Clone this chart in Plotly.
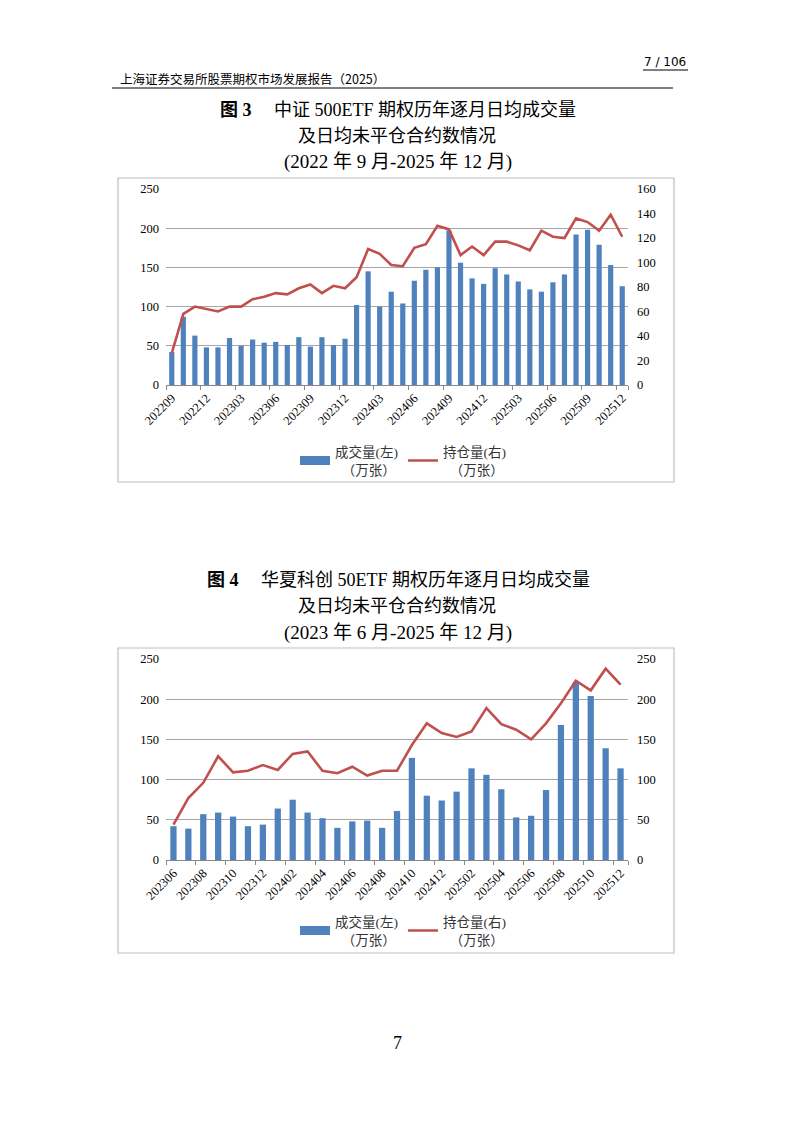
import plotly.graph_objects as go

# ---------------- data ----------------
months1 = [f"{y}{m:02d}" for y, m in
           [(2022, m) for m in range(9, 13)] + [(2023, m) for m in range(1, 13)] +
           [(2024, m) for m in range(1, 13)] + [(2025, m) for m in range(1, 13)]]
volume1 = [42, 87, 63, 48, 48, 60, 50, 58, 54, 55, 51, 61, 49, 61, 51, 59,
           102, 145, 100, 119, 104, 133, 147, 150, 197, 156, 136, 129, 149, 141,
           132, 122, 119, 131, 141, 192, 198, 179, 153, 126]
oi1 = [26, 58, 64, 62, 60, 64, 64, 70, 72, 75, 74, 79, 82, 75, 81, 79,
       88, 111, 107, 98, 97, 112, 115, 130, 127, 106, 113, 106, 117, 117,
       114, 110, 126, 121, 120, 136, 133, 126, 139, 121]

months2 = [f"{y}{m:02d}" for y, m in
           [(2023, m) for m in range(6, 13)] + [(2024, m) for m in range(1, 13)] +
           [(2025, m) for m in range(1, 13)]]
volume2 = [42, 39, 57, 59, 54, 42, 44, 64, 75, 59, 52, 40, 48, 49, 40, 61,
           127, 80, 74, 85, 114, 106, 88, 53, 55, 87, 168, 221, 204, 139, 114]
oi2 = [44, 77, 96, 129, 109, 111, 118, 112, 132, 135, 111, 108, 116, 105, 111, 111,
       143, 170, 158, 153, 160, 189, 169, 162, 150, 170, 195, 223, 211, 238, 218]

left_ticks = [0, 50, 100, 150, 200, 250]
right_ticks1 = [0, 20, 40, 60, 80, 100, 120, 140, 160]
right_ticks2 = [0, 50, 100, 150, 200, 250]

name_vol = "成交量(左)<br>  （万张）"
name_oi = "持仓量(右)<br>  （万张）"

BLUE = "#4F81BD"
RED = "#C0504D"
GRID = "#A6A6A6"
SERIF = "Liberation Serif, Noto Sans CJK SC, serif"
W, H = 794, 1123


def px(x):
    return x / W


def py(y):
    return 1 - y / H


fig = go.Figure()

def add_chart(cats, vol, oi, xa, ya, ya2, leg, bw):
    fig.add_trace(go.Bar(x=cats, y=vol, name=name_vol, marker_color=BLUE,
                         width=bw, xaxis=xa, yaxis=ya, showlegend=False))
    # legend key drawn as a wide swatch (Excel style)
    fig.add_trace(go.Scatter(x=[None], y=[None], name=name_vol, mode="lines",
                             line=dict(color=BLUE, width=9), xaxis=xa, yaxis=ya,
                             legend=leg, hoverinfo="skip"))
    fig.add_trace(go.Scatter(x=cats, y=oi, name=name_oi, mode="lines",
                             line=dict(color=RED, width=2.6), xaxis=xa, yaxis=ya2,
                             legend=leg))

add_chart(months1, volume1, oi1, "x", "y", "y2", "legend", 0.45)
add_chart(months2, volume2, oi2, "x3", "y3", "y4", "legend2", 0.42)

tickfont = dict(family=SERIF, size=12.5, color="#000")
xdom = [px(166), px(628)]

def xaxis_cfg(cats, step, anchor):
    return dict(domain=xdom, anchor=anchor, type="category", automargin=False,
                tickmode="array", tickvals=cats[::step], ticktext=cats[::step],
                tickson="boundaries", ticks="outside", ticklen=4, tickcolor="#888",
                showline=True, linecolor="#888", linewidth=1, showgrid=False,
                tickangle=-45, tickfont=tickfont, range=[-0.5, len(cats) - 0.5])

def yleft_cfg(dom, anchor):
    return dict(domain=dom, anchor=anchor, range=[0, 250], tickvals=left_ticks,
                automargin=False,
                showgrid=True, gridcolor=GRID, gridwidth=1, zeroline=False,
                showline=False, tickfont=tickfont, ticks="", ticklabelstandoff=6)

def yright_cfg(over, anchor, rng, tv):
    return dict(overlaying=over, anchor=anchor, side="right", range=rng, tickvals=tv,
                automargin=False,
                showgrid=False, zeroline=False, showline=False, tickfont=tickfont,
                ticks="", ticklabelstandoff=8)

legfont = dict(family=SERIF, size=13.5, color="#333")
fig.update_layout(
    template="none",
    width=W, height=H, autosize=False,
    margin=dict(l=0, r=0, t=0, b=0, pad=0, autoexpand=False),
    paper_bgcolor="white", plot_bgcolor="rgba(0,0,0,0)",
    showlegend=True,
    xaxis=xaxis_cfg(months1, 3, "y"),
    yaxis=yleft_cfg([py(385), py(189)], "x"),
    yaxis2=yright_cfg("y", "x", [0, 160], right_ticks1),
    xaxis3=xaxis_cfg(months2, 2, "y3"),
    yaxis3=yleft_cfg([py(860), py(659)], "x3"),
    yaxis4=yright_cfg("y3", "x3", [0, 250], right_ticks2),
    legend=dict(orientation="h", x=px(403), y=py(461), xanchor="center", yanchor="middle",
                font=legfont, bgcolor="rgba(0,0,0,0)", itemwidth=30, tracegroupgap=0),
    legend2=dict(orientation="h", x=px(403), y=py(931), xanchor="center", yanchor="middle",
                 font=legfont, bgcolor="rgba(0,0,0,0)", itemwidth=30, tracegroupgap=0),
)

shapes = [
    # chart borders
    dict(type="rect", xref="paper", yref="paper", x0=px(118), x1=px(674), y0=py(482), y1=py(178),
         line=dict(color="#BFBFBF", width=1.2), layer="below"),
    dict(type="rect", xref="paper", yref="paper", x0=px(118), x1=px(674), y0=py(953), y1=py(648),
         line=dict(color="#BFBFBF", width=1.2), layer="below"),
    # header rule
    dict(type="line", xref="paper", yref="paper", x0=px(112), x1=px(673), y0=py(88), y1=py(88),
         line=dict(color="#000", width=1)),
    dict(type="line", xref="paper", yref="paper", x0=px(643), x1=px(688), y0=py(70), y1=py(70),
         line=dict(color="#000", width=1)),
]
fig.update_layout(shapes=shapes)

CJK = "Liberation Serif, Noto Sans CJK SC, serif"
tfont = dict(family=CJK, size=18, color="#000")
annotations = [
    dict(text="7 / 106", x=px(688), y=py(62), xanchor="right", yanchor="middle",
         font=dict(family="DejaVu Sans, sans-serif", size=12, color="#000")),
    dict(text="上海证券交易所股票期权市场发展报告（2025）", x=px(118), y=py(78), xanchor="left",
         yanchor="middle", font=dict(family="Noto Sans CJK SC, sans-serif", size=12.5, color="#000")),
    dict(text="<b>图 3</b>　 中证 500ETF 期权历年逐月日均成交量", x=px(398), y=py(110),
         xanchor="center", yanchor="middle", font=tfont),
    dict(text="及日均未平仓合约数情况", x=px(397), y=py(136),
         xanchor="center", yanchor="middle", font=tfont),
    dict(text="(2022 年 9 月-2025 年 12 月)", x=px(398), y=py(162),
         xanchor="center", yanchor="middle", font=dict(family=CJK, size=19, color="#000")),
    dict(text="<b>图 4</b>　 华夏科创 50ETF 期权历年逐月日均成交量", x=px(398), y=py(580),
         xanchor="center", yanchor="middle", font=tfont),
    dict(text="及日均未平仓合约数情况", x=px(397), y=py(606),
         xanchor="center", yanchor="middle", font=tfont),
    dict(text="(2023 年 6 月-2025 年 12 月)", x=px(398), y=py(633),
         xanchor="center", yanchor="middle", font=dict(family=CJK, size=19, color="#000")),
    dict(text="7", x=px(397), y=py(1043), xanchor="center", yanchor="middle",
         font=dict(family=SERIF, size=18, color="#000")),
]
for a in annotations:
    a.update(xref="paper", yref="paper", showarrow=False)
fig.update_layout(annotations=annotations)

fig.write_html("out.html", config={"displayModeBar": False},
               post_script="document.body.style.margin='0';document.body.style.overflow='hidden';")
